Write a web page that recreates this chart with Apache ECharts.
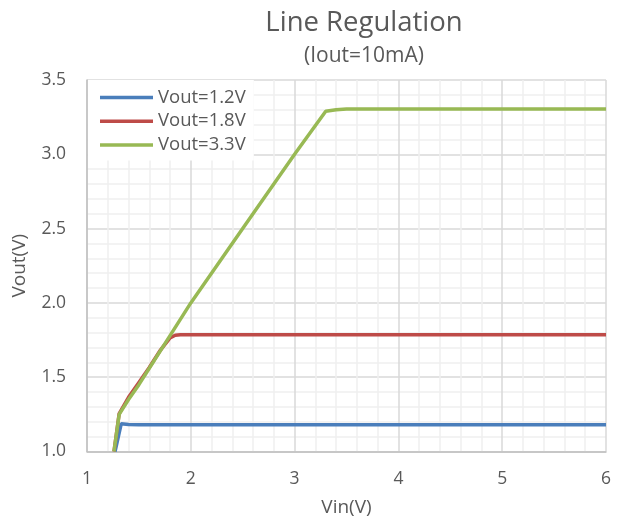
<!DOCTYPE html>
<html>
<head>
<meta charset="utf-8">
<script src="https://cdn.jsdelivr.net/npm/echarts@6/dist/echarts.min.js"></script>
<style>html,body{margin:0;padding:0;background:#fff}#c{width:621px;height:522px}</style>
</head>
<body>
<div id="c"></div>
<script>
const seriesNames = ['Vout=1.2V', 'Vout=1.8V', 'Vout=3.3V'];
const vin12 = [1.27, 1.33, 1.4, 1.5, 2, 3, 4, 5, 6];
const vout12 = [1.0, 1.187, 1.182, 1.18, 1.18, 1.18, 1.18, 1.18, 1.18];
const vin18 = [1.26, 1.31, 1.4, 1.5, 1.6, 1.7, 1.8, 1.85, 1.9, 2, 3, 4, 5, 6];
const vout18 = [1.0, 1.255, 1.365, 1.465, 1.565, 1.675, 1.765, 1.782, 1.785, 1.786, 1.786, 1.786, 1.786, 1.786];
const vin33 = [1.26, 1.31, 1.4, 1.5, 1.6, 1.8, 2.0, 2.5, 3.0, 3.3, 3.4, 3.5, 4, 5, 6];
const vout33 = [1.0, 1.25, 1.35, 1.45, 1.56, 1.78, 2.0, 2.5, 3.0, 3.29, 3.30, 3.305, 3.305, 3.305, 3.305];
const xTicks = [1, 2, 3, 4, 5, 6];
const yTicks = ['1.0', '1.5', '2.0', '2.5', '3.0', '3.5'];

const pair = (xs, ys) => xs.map((x, i) => [x, ys[i]]);
const colors = ['#4a7ebb', '#be4b48', '#98b954'];
const txt = '#595959';
const font = 'Open Sans';

const chart = echarts.init(document.getElementById('c'));
chart.setOption({
  animation: false,
  textStyle: { fontFamily: font },
  grid: { left: 87, right: 15, top: 80, bottom: 70, containLabel: false },
  graphic: [
    { type: 'text', x: 364, y: 23, style: { text: 'Line Regulation', font: '27.5px "Open Sans"', fill: txt, textAlign: 'center', textVerticalAlign: 'middle' } },
    { type: 'text', x: 364, y: 56, style: { text: '(Iout=10mA)', font: '21px "Open Sans"', fill: txt, textAlign: 'center', textVerticalAlign: 'middle' } }
  ],
  legend: {
    data: seriesNames,
    orient: 'vertical',
    left: 88, top: 80,
    padding: [8, 8, 6, 12],
    itemGap: 4.7,
    itemWidth: 53, itemHeight: 3.5,
    icon: 'rect',
    backgroundColor: '#ffffff',
    textStyle: { color: txt, fontSize: 18.5, lineHeight: 18, fontFamily: font }
  },
  xAxis: {
    type: 'value', min: 1, max: 6, interval: 1,
    name: 'Vin(V)', nameLocation: 'middle', nameGap: 46.5,
    nameTextStyle: { color: txt, fontSize: 19, fontFamily: font },
    axisLine: { show: true, onZero: false, lineStyle: { color: '#bfbfbf', width: 1.5 } },
    axisTick: { show: false },
    axisLabel: { color: txt, fontSize: 17.5, margin: 19, fontFamily: font, formatter: v => xTicks.includes(v) ? String(v) : '' },
    splitLine: { show: true, lineStyle: { color: '#d9d9d9', width: 1.5 } },
    minorTick: { show: false, splitNumber: 5 },
    minorSplitLine: { show: true, lineStyle: { color: '#efefef', width: 1.5 } }
  },
  yAxis: {
    type: 'value', min: 1, max: 3.5, interval: 0.5,
    name: 'Vout(V)', nameLocation: 'middle', nameGap: 57.5, nameRotate: 90,
    nameTextStyle: { color: txt, fontSize: 19, fontFamily: font },
    axisLine: { show: true, onZero: false, lineStyle: { color: '#bfbfbf', width: 1.5 } },
    axisTick: { show: false },
    axisLabel: { color: txt, fontSize: 17.5, margin: 21, fontFamily: font, formatter: v => { const s = v.toFixed(1); return yTicks.includes(s) ? s : ''; } },
    splitLine: { show: true, lineStyle: { color: '#d9d9d9', width: 1.5 } },
    minorTick: { show: false, splitNumber: 5 },
    minorSplitLine: { show: true, lineStyle: { color: '#efefef', width: 1.5 } }
  },
  series: [
    { name: seriesNames[0], type: 'line', data: pair(vin12, vout12), showSymbol: false, lineStyle: { width: 3.5, color: colors[0] }, itemStyle: { color: colors[0] }, clip: true },
    { name: seriesNames[1], type: 'line', data: pair(vin18, vout18), showSymbol: false, lineStyle: { width: 3.5, color: colors[1] }, itemStyle: { color: colors[1] }, clip: true },
    { name: seriesNames[2], type: 'line', data: pair(vin33, vout33), showSymbol: false, lineStyle: { width: 3.5, color: colors[2] }, itemStyle: { color: colors[2] }, clip: true }
  ]
});
</script>
</body>
</html>
